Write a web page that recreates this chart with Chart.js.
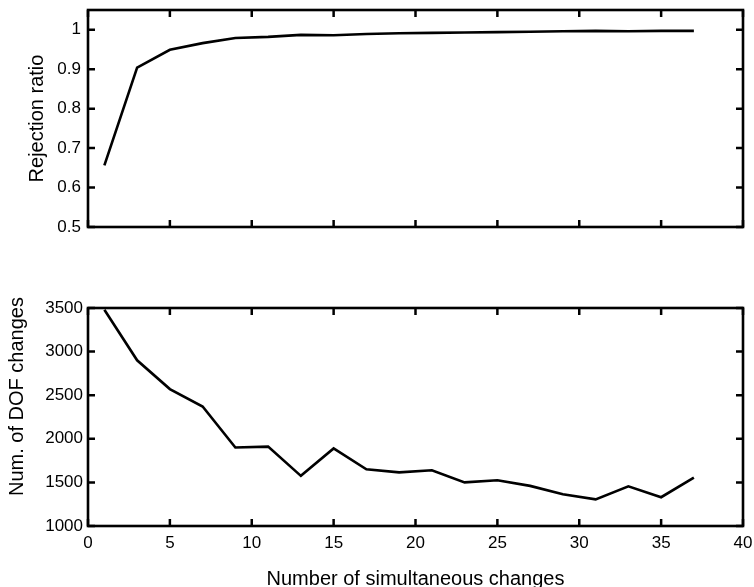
<!DOCTYPE html>
<html>
<head>
<meta charset="utf-8">
<script src="https://cdn.jsdelivr.net/npm/chart.js@4/dist/chart.umd.min.js"></script>
<style>
html,body{margin:0;padding:0;background:#fff;overflow:hidden;width:754px;height:587px;}
canvas{position:absolute;left:0;}
#c1{top:0;}
#c2{top:250px;}
</style>
</head>
<body>
<canvas id="c1" width="754" height="250"></canvas>
<canvas id="c2" width="754" height="341"></canvas>
<script>
// ---- data ----
const changes = [1,3,5,7,9,11,13,15,17,19,21,23,25,27,29,31,33,35,37];
const rejectionRatio = [0.656,0.904,0.949,0.966,0.979,0.982,0.987,0.986,0.989,0.991,0.992,0.993,0.994,0.995,0.996,0.997,0.996,0.997,0.997];
const dofChanges = [3480,2900,2570,2370,1900,1910,1575,1890,1650,1615,1640,1500,1525,1460,1365,1305,1455,1330,1555];
const xTicks = [0,5,10,15,20,25,30,35,40];
const ratioTicks = [0.5,0.6,0.7,0.8,0.9,1];
const dofTicks = [1000,1500,2000,2500,3000,3500];
const ratioTitle = 'Rejection ratio';
const dofTitle = 'Num. of DOF changes';
const xTitle = 'Number of simultaneous changes';

const FONT = '"Liberation Sans", Arial, Helvetica, sans-serif';
Chart.defaults.font.family = FONT;
Chart.defaults.color = '#000';
Chart.defaults.animation = false;

function boxPlugin(yTicks, extraTitle) {
  return {
    id: 'matlabBox',
    afterDatasetsDraw(chart) {
      const ctx = chart.ctx;
      const {left, right, top, bottom} = chart.chartArea;
      const xs = chart.scales.x, ys = chart.scales.y;
      ctx.save();
      ctx.strokeStyle = '#000';
      ctx.lineWidth = 2.5;
      const L = 7;
      ctx.beginPath();
      xTicks.forEach(v => {
        const p = xs.getPixelForValue(v);
        ctx.moveTo(p, bottom); ctx.lineTo(p, bottom - L);
        ctx.moveTo(p, top); ctx.lineTo(p, top + L);
      });
      yTicks.forEach(v => {
        const p = ys.getPixelForValue(v);
        ctx.moveTo(left, p); ctx.lineTo(left + L, p);
        ctx.moveTo(right, p); ctx.lineTo(right - L, p);
      });
      ctx.stroke();
      ctx.lineWidth = 2.6;
      ctx.strokeRect(left, top, right - left, bottom - top);
      if (extraTitle) {
        ctx.translate(extraTitle.x, extraTitle.y);
        ctx.rotate(-Math.PI / 2);
        ctx.fillStyle = '#000';
        ctx.font = '20px ' + FONT;
        ctx.textAlign = 'center';
        ctx.textBaseline = 'middle';
        ctx.fillText(extraTitle.text, 0, 0);
      }
      ctx.restore();
    }
  };
}

function setTicks(arr) {
  return function(scale) { scale.ticks = arr.map(v => ({value: v})); };
}
function fitX(h) {
  return function(s) { s.height = h; s.paddingLeft = 0; s.paddingRight = 0; };
}
function fitY(w) {
  return function(s) { s.width = w; s.paddingTop = 0; s.paddingBottom = 0; };
}

// ---- top chart ----
new Chart(document.getElementById('c1'), {
  type: 'line',
  data: {
    datasets: [{
      data: changes.map((x, i) => ({x: x, y: rejectionRatio[i]})),
      borderColor: '#000', borderWidth: 2.6, pointRadius: 0, tension: 0, fill: false
    }]
  },
  options: {
    responsive: false,
    layout: {padding: {top: 10, right: 11, left: 0, bottom: 0}},
    plugins: {legend: {display: false}, tooltip: {enabled: false}},
    scales: {
      x: {
        type: 'linear', min: 0, max: 40,
        grid: {display: false, drawTicks: false}, border: {display: false},
        ticks: {display: false},
        afterBuildTicks: setTicks(xTicks),
        afterFit: fitX(23)
      },
      y: {
        type: 'linear', min: 0.5, max: 1.05,
        grid: {display: false, drawTicks: false}, border: {display: false},
        ticks: {font: {size: 17}, padding: 7, callback: v => String(v)},
        afterBuildTicks: setTicks(ratioTicks),
        title: {display: true, text: ratioTitle, font: {size: 20}, padding: {top: 25, bottom: 0}},
        afterFit: fitY(88)
      }
    }
  },
  plugins: [boxPlugin(ratioTicks, null)]
});

// ---- bottom chart ----
new Chart(document.getElementById('c2'), {
  type: 'line',
  data: {
    datasets: [{
      data: changes.map((x, i) => ({x: x, y: dofChanges[i]})),
      borderColor: '#000', borderWidth: 2.6, pointRadius: 0, tension: 0, fill: false
    }]
  },
  options: {
    responsive: false,
    layout: {padding: {top: 58, right: 11, left: 0, bottom: 0}},
    plugins: {legend: {display: false}, tooltip: {enabled: false}},
    scales: {
      x: {
        type: 'linear', min: 0, max: 40,
        grid: {display: false, drawTicks: false}, border: {display: false},
        ticks: {font: {size: 17}, padding: 7, maxRotation: 0, callback: v => String(v)},
        afterBuildTicks: setTicks(xTicks),
        title: {display: true, text: xTitle, font: {size: 20}, padding: {top: 0, bottom: 0}},
        afterFit: fitX(65)
      },
      y: {
        type: 'linear', min: 1000, max: 3500,
        grid: {display: false, drawTicks: false}, border: {display: false},
        ticks: {font: {size: 17}, padding: 5, callback: v => String(v)},
        afterBuildTicks: setTicks(dofTicks),
        afterFit: fitY(88)
      }
    }
  },
  plugins: [boxPlugin(dofTicks, {text: dofTitle, x: 17, y: 146.5})]
});
</script>
</body>
</html>
